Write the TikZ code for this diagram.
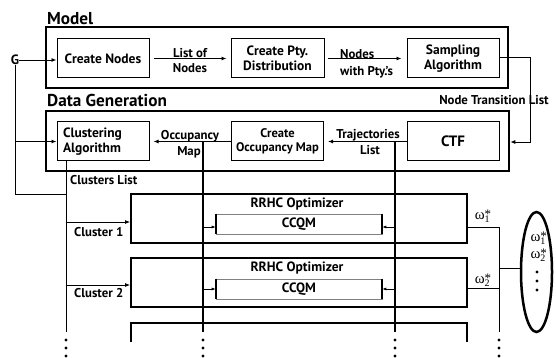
\documentclass[tikz,border=0pt]{standalone}
\usepackage{fontspec}
\setmainfont{PT Sans}
\newfontfamily\serifx{Liberation Serif}
\usetikzlibrary{arrows.meta,shapes.geometric,calc}
\newcommand{\omst}[1]{{\serifx ω\rlap{\raisebox{1pt}{\fontsize{13}{13}\selectfont *}}\raisebox{-3pt}{\fontsize{10}{10}\selectfont #1}\hspace{1.5pt}}}
\begin{document}
\begin{tikzpicture}[x=1pt,y=-1pt,
  every node/.style={font=\bfseries\fontsize{13.5}{15}\selectfont, inner sep=0pt},
  titletext/.style={font=\bfseries\fontsize{17.2}{18}\selectfont, anchor=base west},
  bigbox/.style={draw, line width=2.6pt, minimum height=#1},
  procbox/.style={draw, line width=1pt, minimum width=92pt, minimum height=39pt, align=center},
  optbox/.style={draw, line width=1.8pt, minimum width=336pt, minimum height=49pt},
  ccqmbox/.style={draw=gray, line width=0.6pt, minimum width=166pt, minimum height=20pt},
  conn/.style={line width=0.9pt},
  arr/.style={conn, -{Latex[length=5pt,width=4pt]}},
  smallarr/.style={line width=0.7pt, -{Latex[length=4pt,width=3pt]}},
  bus/.style={line width=1.8pt},
  lbl/.style={font=\bfseries\fontsize{12.8}{15}\selectfont, align=center},
  omg/.style={font=\fontsize{15}{17}\selectfont, align=center},
]
\useasboundingbox (0,0) rectangle (556,358);

% ---------- Model ----------
\node[titletext] (tmodel) at (47,24.5) {Model};
\node[bigbox=61pt, minimum width=462pt] (model) at (277,57.5) {};
\node[procbox] (cn) at (103,58.5) {Create Nodes};
\node[procbox, minimum width=93pt] (cpd) at (277.5,58.5) {Create Pty.\\Distribution};
\node[procbox] (sa) at (453,58.5) {Sampling\\Algorithm};

\node (G) at (15,60) {G};
\draw[arr] (G.east) -- (G.east -| cn.west);

\draw[arr, shorten <=4pt, shorten >=4pt] (cn.east) -- (cpd.west);
\node[lbl] (l1) at (190,53) {List of};
\node[lbl] (l2) at (190,68) {Nodes};

\draw[arr, shorten <=3pt, shorten >=5pt] (cpd.east) -- (sa.west);
\node[lbl, anchor=west] (l3) at (340,54.5) {Nodes};
\node[lbl, anchor=west] (l4) at (340,72) {with Pty.'s};

% ---------- Data Generation ----------
\node[titletext] (tdg) at (47,106.5) {Data Generation};
\node[bigbox=60pt, minimum width=463pt] (dg) at (277.5,141) {};
\node[procbox, align=left, text width=80pt] (ca) at (103,141.5) {Clustering\\Algorithm};
\node[procbox, font=\bfseries\fontsize{12.5}{14.5}\selectfont] (com) at (277.5,141.5) {Create\\Occupancy Map};
\node[procbox, font=\bfseries\fontsize{15}{15}\selectfont] (ctf) at (453,141.5) {CTF};

% sampling -> CTF
\coordinate (nt1) at (530,57);
\coordinate (nt2) at (530,142);
\draw[arr] (sa.east |- nt1) -- (nt1) -- (nt2) -- (nt2 -| dg.east);
\node[lbl] (ntl) at (494,100) {Node Transition List};

% CTF -> Create Occupancy Map
\draw[arr, shorten >=4pt] (ctf.west) -- (com.east);
\node[lbl] (l5) at (368,135) {Trajectories};
\node[lbl] (l6) at (370,150.5) {List};

% Create Occupancy Map -> Clustering
\draw[arr, shorten >=4pt] (com.west) -- (ca.east);
\node[lbl] (l7) at (190,136) {Occupancy};
\node[lbl] (l8) at (189,152) {Map};

% G -> clustering and bus
\coordinate (gb) at (15,194);
\coordinate (gbr) at (15,141.5);
\coordinate (ctop) at (66,161);
\coordinate (cj) at (66,194);
\coordinate (cbot) at (66,332);
\draw[conn] (G.south) -- (gb) -- (cj);
\draw[arr] (gbr) -- (ca.west);
\draw[conn] (ctop) -- (cbot);
\node[lbl, anchor=west] (cl) at (70,180) {Clusters List};

% ---------- Optimizers ----------
\node[optbox] (o1) at (299,218.5) {};
\node (r1) at (297,204) {RRHC Optimizer};
\node[ccqmbox] (q1) at (299,224) {CCQM};
\draw[line width=1.8pt] (q1.north west) -- (q1.south west) (q1.north east) -- (q1.south east);

\node[optbox] (o2) at (299,282.5) {};
\node (r2) at (297,268) {RRHC Optimizer};
\node[ccqmbox] (q2) at (299,289) {CCQM};
\draw[line width=1.8pt] (q2.north west) -- (q2.south west) (q2.north east) -- (q2.south east);

% third (partial) optimizer
\coordinate (b3a) at (131,342);
\coordinate (b3b) at (131,323);
\coordinate (b3c) at (467,323);
\coordinate (b3d) at (467,342);
\draw[line width=1.8pt] (b3a) -- (b3b) -- (b3c) -- (b3d);

% cluster arrows
\coordinate (k1) at (66,222);
\coordinate (k2) at (66,285);
\draw[arr] (k1) -- (k1 -| o1.west);
\draw[arr] (k2) -- (k2 -| o2.west);
\node[lbl, anchor=west] (c1) at (74,232) {Cluster 1};
\node[lbl, anchor=west] (c2) at (74,293) {Cluster 2};

% buses
\coordinate (ot) at (203,141.5);
\coordinate (ob) at (203,332);
\coordinate (tt) at (395,141.5);
\coordinate (tb) at (395,332);
\draw[bus] (ot) -- (ob);
\draw[bus] (tt) -- (tb);

\coordinate (a1) at (203,227);
\coordinate (a2) at (203,289);
\coordinate (a3) at (395,227);
\coordinate (a4) at (395,289);
\draw[smallarr] (a1) -- (a1 -| q1.west);
\draw[smallarr] (a2) -- (a2 -| q2.west);
\draw[smallarr] (a3) -- (a3 -| q1.east);
\draw[smallarr] (a4) -- (a4 -| q2.east);

% outputs
\node[draw, ellipse, line width=2.5pt, minimum width=31pt, minimum height=120pt] (ell) at (536.5,272) {};
\coordinate (w1) at (499,227);
\coordinate (w2) at (499,288);
\coordinate (wj) at (499,268);
\coordinate (wb) at (499,332);
\draw[conn] (w1 -| o1.east) -- (w1) -- (wb);
\draw[conn] (w2 -| o2.east) -- (w2);
\draw[conn] (wj) -- (wj -| ell.west);
\node[omg] (om1) at (483,216) {\omst{1}};
\node[omg] (om2) at (483,280) {\omst{2}};
\node[omg] (e12) at (538,247) {\omst{1}\\\omst{2}};
\foreach \y in {272,281,290} \fill (537,\y) circle (1.7pt);

% continuation dots
\foreach \x in {66,203,395,499}
  \foreach \y in {340,348,356} \fill (\x,\y) circle (1.7pt);
\end{tikzpicture}
\end{document}
